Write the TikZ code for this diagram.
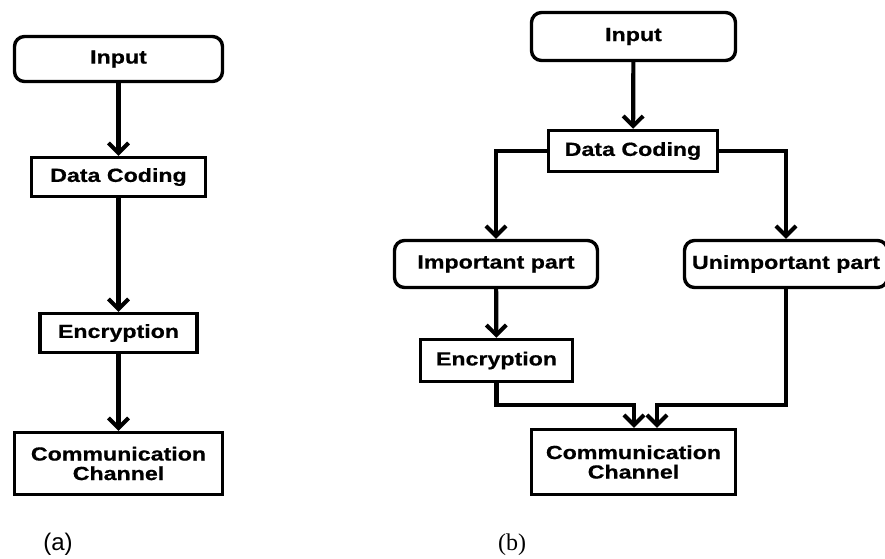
\documentclass[tikz,border=0pt]{standalone}
\usepackage{fontspec}
\usetikzlibrary{arrows.meta}
\newfontfamily\boxfont{Liberation Sans}[FakeStretch=1.22,FakeBold=0.6]
\newfontfamily\capsans{Liberation Sans}
\newfontfamily\capserif{Liberation Serif}
\tikzset{
  flowbox/.style={draw=black, line width=3.4pt, fill=white, inner sep=0pt,
    align=center, font=\boxfont\bfseries\fontsize{19}{19.5}\selectfont},
  roundbox/.style={flowbox, rounded corners=10pt},
  flow/.style={line width=4.2pt, -{Straight Barb[length=10pt,width=20pt,line width=4pt]}},
}
\begin{document}
\begin{tikzpicture}[x=1pt,y=-1pt]
\clip (0,0) rectangle (885,558);
\fill[white] (0,0) rectangle (885,558);

% (a) linear chain
\node[roundbox, minimum width=208, minimum height=45] (inA) at (118.5,59) {Input};
\node[flowbox, minimum width=174, minimum height=39] (dcA) at (118.5,177) {Data Coding};
\node[flowbox, minimum width=157, minimum height=39] (enA) at (118.5,333) {Encryption};
\node[flowbox, minimum width=208, minimum height=62] (ccA) at (118.5,463.5) {Communication\\Channel};
\draw[flow] (inA) -- (dcA);
\draw[flow] (dcA) -- (enA);
\draw[flow] (enA) -- (ccA);
\node[font=\capsans\fontsize{24}{24}\selectfont] (labA) at (58,544) {(a)};

% (b) split into important / unimportant parts
\node[roundbox, minimum width=204, minimum height=48] (inB) at (633.5,36.5) {Input};
\node[flowbox, minimum width=169, minimum height=41] (dcB) at (633,151) {Data Coding};
\node[roundbox, minimum width=203, minimum height=47] (ipB) at (496,264) {Important part};
\node[roundbox, minimum width=203, minimum height=47] (upB) at (786,264) {Unimportant part};
\node[flowbox, minimum width=152, minimum height=42] (enB) at (496.5,360.5) {Encryption};
\node[flowbox, minimum width=204, minimum height=65] (ccB) at (633.5,462) {Communication\\Channel};
\coordinate (jL) at (634,405);
\coordinate (jR) at (657,405);
\draw[flow] (inB) -- (dcB);
\draw[flow] (dcB.west) -| (ipB.north);
\draw[flow] (dcB.east) -| (upB.north);
\draw[flow] (ipB) -- (enB);
\draw[flow] (enB.south) |- (jL) -- (jL |- ccB.north);
\draw[flow] (upB.south) |- (jR) -- (jR |- ccB.north);
\node[font=\capserif\fontsize{24}{24}\selectfont] (labB) at (512,545) {(b)};
\end{tikzpicture}
\end{document}
